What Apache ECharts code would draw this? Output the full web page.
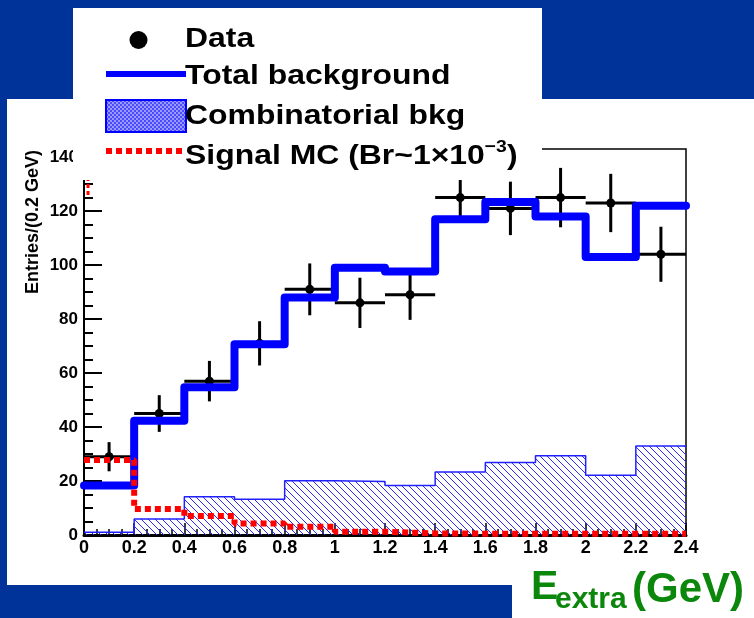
<!DOCTYPE html>
<html><head><meta charset="utf-8">
<script src="https://cdn.jsdelivr.net/npm/echarts@6/dist/echarts.min.js"></script>
<style>html,body{margin:0;padding:0;background:#003399;}#c{width:754px;height:618px;}</style>
</head><body><div id="c"></div>
<script>
// ---- data ----
const binLow   = [0.0, 0.2, 0.4, 0.6, 0.8, 1.0, 1.2, 1.4, 1.6, 1.8, 2.0, 2.2];
const binUpper = 2.4;
const binHalfWidth = 0.1;
const dataCounts = [29, 45, 57, 71, 91, 86, 89, 125, 121, 125, 123, 104];
const dataErrors = [5.4, 6.8, 7.5, 8.2, 9.6, 9.3, 9.3, 8.5, 9.9, 11.0, 10.8, 10.2];
const totalBkg   = [18.3, 42.3, 54.7, 70.7, 88.0, 99.0, 97.6, 117.0, 123.4, 118.0, 103.0, 122.0];
const combBkg    = [1.0, 5.9, 14.2, 13.2, 20.1, 19.8, 18.3, 23.3, 26.9, 29.4, 22.1, 33.0];
const signalMC   = [27.8, 9.6, 7.0, 4.3, 3.1, 1.2, 0.6, 0.5, 0.5, 0.5, 0.5, 0.5];
const signalEdgeX = 0.016;           // off-scale signal edge near E=0
const signalEdgeY = [126, 160];
const yMax = 143, yInterval = 20;
const xMax = 2.4, xInterval = 0.2;

const F = '"Liberation Sans", Arial, Helvetica, sans-serif';
function hist(vals){ const d = binLow.map((x,i)=>[x, vals[i]]); d.push([binUpper, vals[vals.length-1]]); return d; }

// hatch pattern (\\\\) for combinatorial background
const hatch = document.createElement('canvas'); hatch.width = 7; hatch.height = 7;
(function(){ const g = hatch.getContext('2d'); g.strokeStyle = '#2a2aff'; g.lineWidth = 1;
  g.beginPath(); g.moveTo(-1,-1); g.lineTo(8,8); g.moveTo(-8,-1); g.lineTo(1,8); g.moveTo(6,-1); g.lineTo(15,8); g.stroke(); })();
// checker pattern for legend swatch
const checker = document.createElement('canvas'); checker.width = 4; checker.height = 4;
(function(){ const g = checker.getContext('2d'); g.fillStyle = '#ffffff'; g.fillRect(0,0,4,4);
  g.fillStyle = '#4a4aff'; g.fillRect(0,0,2,2); g.fillRect(2,2,2,2); g.fillStyle='#9a9aff'; g.fillRect(2,0,2,2); g.fillRect(0,2,2,2); })();

const LS = 1.14; // legend text horizontal stretch
const chart = echarts.init(document.getElementById('c'), null, {renderer:'canvas'});
chart.setOption({
  backgroundColor: '#003399',
  animation: false,
  grid: { left: 84, top: 149, right: 68, bottom: 83, containLabel: false, outerBoundsMode: 'none',
          show: true, borderColor: '#000', borderWidth: 1.5, backgroundColor: 'transparent' },
  xAxis: { type: 'value', min: 0, max: xMax, interval: xInterval,
    axisLine: { onZero: false, lineStyle: { color: '#000', width: 3 } },
    axisTick: { inside: true, length: 12, lineStyle: { color: '#000', width: 1.5 } },
    minorTick: { show: true, splitNumber: 4, length: 6, lineStyle: { color: '#000', width: 1.5 } },
    splitLine: { show: false },
    axisLabel: { color: '#000', fontFamily: F, fontWeight: 'bold', fontSize: 18, margin: 4 } },
  yAxis: { type: 'value', min: 0, max: yMax, interval: yInterval,
    axisLine: { show: true, onZero: false, lineStyle: { color: '#000', width: 2 } },
    axisTick: { show: true, inside: true, length: 18, lineStyle: { color: '#000', width: 2 } },
    minorTick: { show: true, splitNumber: 4, length: 9, lineStyle: { color: '#000', width: 2 } },
    splitLine: { show: false },
    axisLabel: { color: '#000', fontFamily: F, fontWeight: 'bold', fontSize: 17, margin: 6, showMaxLabel: false } },
  series: [
    { name: 'Combinatorial bkg', type: 'line', step: 'end', data: hist(combBkg), symbol: 'none', z: 1,
      lineStyle: { color: '#2020ff', width: 1.5 }, areaStyle: { color: { image: hatch, repeat: 'repeat' }, opacity: 1 } },
    { name: 'Data', type: 'custom', z: 3, clip: true,
      data: binLow.map((x,i)=>[x + binHalfWidth, dataCounts[i], dataErrors[i]]),
      renderItem: function(params, api){
        const x = api.value(0), y = api.value(1), e = api.value(2);
        const c = api.coord([x, y]), l = api.coord([x - binHalfWidth, y]), r = api.coord([x + binHalfWidth, y]);
        const t = api.coord([x, y + e]), b = api.coord([x, y - e]);
        const st = { stroke: '#000', lineWidth: 3 };
        return { type: 'group', children: [
          { type: 'line', shape: { x1: l[0], y1: l[1], x2: r[0], y2: r[1] }, style: st },
          { type: 'line', shape: { x1: t[0], y1: t[1], x2: b[0], y2: b[1] }, style: st },
          { type: 'circle', shape: { cx: c[0], cy: c[1], r: 4.5 }, style: { fill: '#000' } } ] };
      } },
    { name: 'Total background', type: 'line', step: 'end', data: hist(totalBkg), symbol: 'none', z: 4,
      lineStyle: { color: '#0000ff', width: 8, join: 'round', cap: 'round' } },
    { name: 'Signal MC', type: 'line', step: 'end', data: hist(signalMC), symbol: 'none', z: 5,
      lineStyle: { color: '#ff0000', width: 6, type: [6, 4] } },
    { name: 'Signal MC edge', type: 'line', data: signalEdgeY.map(v=>[signalEdgeX, v]), symbol: 'none', z: 5,
      lineStyle: { color: '#ff0000', width: 3, type: [4, 3] } }
  ],
  graphic: [
    { type: 'rect', z: -5, shape: { x: 7, y: 99, width: 747, height: 486 }, style: { fill: '#fff' } },
    { type: 'rect', z: -5, shape: { x: 512, y: 584, width: 242, height: 34 }, style: { fill: '#fff' } },
    { type: 'rect', z: 50, shape: { x: 73, y: 8, width: 469, height: 172 }, style: { fill: '#fff' } },
    { type: 'circle', z: 51, shape: { cx: 138.5, cy: 40, r: 9 }, style: { fill: '#000' } },
    { type: 'line', z: 51, shape: { x1: 106, y1: 74, x2: 186, y2: 74 }, style: { stroke: '#0000ff', lineWidth: 6 } },
    { type: 'rect', z: 51, shape: { x: 106, y: 100, width: 80, height: 32 }, style: { fill: { image: checker, repeat: 'repeat' }, stroke: '#0000ff', lineWidth: 2 } },
    { type: 'line', z: 51, shape: { x1: 106, y1: 151, x2: 186, y2: 151 }, style: { stroke: '#ff0000', lineWidth: 6, lineDash: [6, 4] } },
    { type: 'text', z: 52, x: 185, y: 39, scaleX: LS, style: { text: 'Data', font: 'bold 28px ' + F, fill: '#000', verticalAlign: 'middle' } },
    { type: 'text', z: 52, x: 185, y: 76, scaleX: LS, style: { text: 'Total background', font: 'bold 28px ' + F, fill: '#000', verticalAlign: 'middle' } },
    { type: 'text', z: 52, x: 185, y: 116, scaleX: LS, style: { text: 'Combinatorial bkg', font: 'bold 28px ' + F, fill: '#000', verticalAlign: 'middle' } },
    { type: 'text', z: 52, x: 185, y: 156, scaleX: LS, style: { text: '{t|Signal MC (Br~1\u00d710}{s|\u22123}{t|)}', fill: '#000', verticalAlign: 'middle',
        rich: { t: { font: 'bold 28px ' + F, fill: '#000', lineHeight: 34 }, s: { font: 'bold 17px ' + F, fill: '#000', verticalAlign: 'top', lineHeight: 34, padding: [0,0,14,0] } } } },
    { type: 'text', z: 52, x: 33, y: 222, rotation: Math.PI / 2, style: { text: 'Entries/(0.2 GeV)', font: 'bold 18px ' + F, fill: '#000', align: 'center', verticalAlign: 'middle' } },
    { type: 'text', z: 52, x: 531, y: 588, style: { text: 'E', font: 'bold 41px ' + F, fill: '#0b870b', verticalAlign: 'middle' } },
    { type: 'text', z: 52, x: 555, y: 600, style: { text: 'extra', font: 'bold 30px ' + F, fill: '#0b870b', verticalAlign: 'middle' } },
    { type: 'text', z: 52, x: 632, y: 590, style: { text: '(GeV)', font: 'bold 42px ' + F, fill: '#0b870b', verticalAlign: 'middle' } }
  ]
});
</script></body></html>
